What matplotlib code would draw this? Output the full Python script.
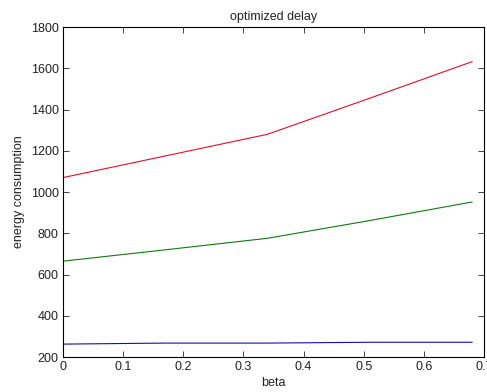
import matplotlib.pyplot as plt

plt.rcParams['font.family'] = ['Liberation Sans', 'DejaVu Sans']

# beta values and energy consumption per series
beta = [0, 0.17, 0.34, 0.51, 0.68]
red_vals = [1070, 1175, 1280, 1455, 1632]
green_vals = [665, 720, 776, 862, 952]
blue_vals = [263, 268, 268, 272, 272]

fig = plt.figure(figsize=(4.87, 3.92), dpi=100)
ax = fig.add_axes([0.129, 0.089, 0.865, 0.842])

ax.plot(beta, red_vals, color='#e0102a', lw=0.8)
ax.plot(beta, green_vals, color='#107a10', lw=0.8)
ax.plot(beta, blue_vals, color='#1010b0', lw=0.8)

ax.set_xlim(0, 0.7)
ax.set_ylim(200, 1800)
ax.set_xticks([0, 0.1, 0.2, 0.3, 0.4, 0.5, 0.6, 0.7])
ax.set_xticklabels(['0', '0.1', '0.2', '0.3', '0.4', '0.5', '0.6', '0.7'])
ax.set_yticks(range(200, 1801, 200))
ax.tick_params(direction='in', top=True, right=True, labelsize=9, length=4,
               width=0.6, colors='#222222', pad=3)
for s in ax.spines.values():
    s.set_linewidth(0.8)

ax.set_title('optimized delay', fontsize=9, pad=5, color='#222222')
ax.set_xlabel('beta', fontsize=9, labelpad=3, color='#222222')
ax.set_ylabel('energy consumption', fontsize=9, labelpad=4, color='#222222')

fig.savefig('out.png', dpi=100)
